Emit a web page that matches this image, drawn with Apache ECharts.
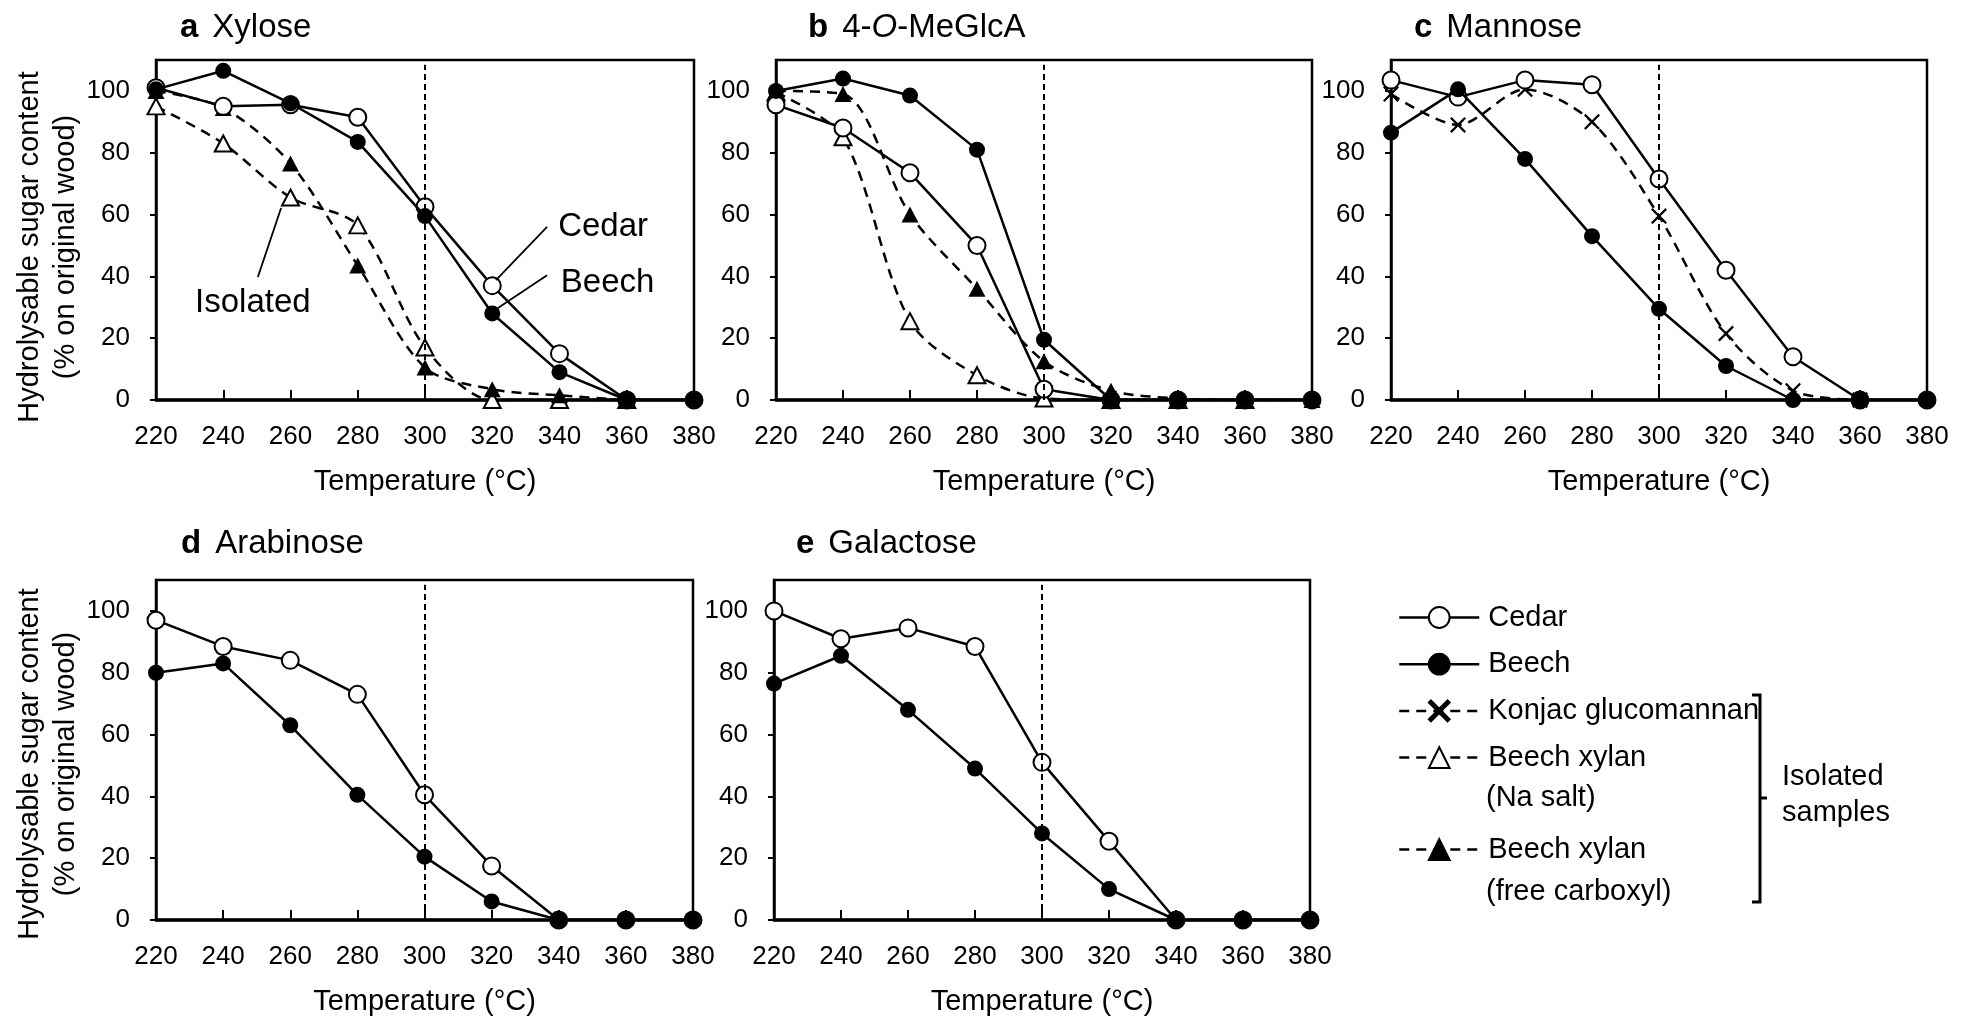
<!DOCTYPE html>
<html><head><meta charset="utf-8">
<script src="https://cdn.jsdelivr.net/npm/echarts@6/dist/echarts.min.js"></script>
<style>html,body{margin:0;padding:0;background:#fff}#c{width:1961px;height:1028px}</style>
</head><body><div id="c"></div>
<script>
// ---- data ----
const temps = [220, 240, 260, 280, 300, 320, 340, 360, 380];
const xTicks = [220, 240, 260, 280, 300, 320, 340, 360, 380];
const yTicks = [0, 20, 40, 60, 80, 100];

const xyloseCedar = [101, 95, 95.5, 91.5, 62.5, 37, 15, 0, 0];
const xyloseBeech = [100.5, 106.5, 96, 83.5, 59.5, 28, 9, 0, 0];
const xyloseNaSalt = [95, 83, 65.5, 56.5, 17, 0, 0, 0, null];
const xyloseFreeCarboxyl = [100, 94.5, 76.5, 43.5, 10.5, 3.5, 1.5, 0, null];

const meglcaCedar = [95.5, 88, 73.5, 50, 3.5, 0, 0, 0, 0];
const meglcaBeech = [100, 104, 98.5, 81, 19.5, 0, 0, 0, 0];
const meglcaNaSalt = [99.5, 85, 25.5, 8, 0.5, 0, 0, 0, null];
const meglcaFreeCarboxyl = [100, 99, 60, 36, 12.5, 3, 0.5, 0, 0];

const mannoseCedar = [103.5, 98, 103.5, 102, 71.5, 42, 14, 0, 0];
const mannoseBeech = [86.5, 100.5, 78, 53, 29.5, 11, 0, 0, 0];
const mannoseKonjac = [99, 89, 100.5, 90, 59.5, 21.5, 3, 0, null];

const arabinoseCedar = [97, 88.5, 84, 73, 40.5, 17.5, 0, 0, 0];
const arabinoseBeech = [80, 83, 63, 40.5, 20.5, 6, 0, 0, 0];

const galactoseCedar = [100, 91, 94.5, 88.5, 51, 25.5, 0, 0, 0];
const galactoseBeech = [76.5, 85.5, 68, 49, 28, 10, 0, 0, 0];

const legendNames = ['Cedar', 'Beech', 'Konjac glucomannan', 'Beech xylan (Na salt)', 'Beech xylan (free carboxyl)'];

// ---- styling / layout ----
const FONT = '"Liberation Sans", Arial, Helvetica, sans-serif';
const XPATH = 'path://M1,0 L5,4 L9,0 L10,1 L6,5 L10,9 L9,10 L5,6 L1,10 L0,9 L4,5 L0,1 Z';
const DASH = [10, 7];
const styles = {
  'Cedar': {symbol: 'circle', symbolSize: 17, itemStyle: {color: '#fff', borderColor: '#000', borderWidth: 2}, lineStyle: {color: '#000', width: 2.5, type: 'solid'}, smooth: false, z: 4},
  'Beech': {symbol: 'circle', symbolSize: 16, itemStyle: {color: '#000', borderColor: '#000', borderWidth: 0}, lineStyle: {color: '#000', width: 2.5, type: 'solid'}, smooth: false, z: 5},
  'Konjac glucomannan': {symbol: XPATH, symbolSize: 16, itemStyle: {color: '#000', borderColor: '#000', borderWidth: 0}, lineStyle: {color: '#000', width: 2.5, type: DASH}, smooth: 0.3, z: 3},
  'Beech xylan (Na salt)': {symbol: 'triangle', symbolSize: [17, 16], itemStyle: {color: '#fff', borderColor: '#000', borderWidth: 2}, lineStyle: {color: '#000', width: 2.5, type: DASH}, smooth: 0.3, z: 3},
  'Beech xylan (free carboxyl)': {symbol: 'triangle', symbolSize: [17, 16], itemStyle: {color: '#000', borderColor: '#000', borderWidth: 0}, lineStyle: {color: '#000', width: 2.5, type: DASH}, smooth: 0.3, z: 3}
};

const panels = [
  {label: 'a', rich: '{n|Xylose}', tl: [175, 6], grid: {left: 156, top: 60, width: 538, height: 340},
   lines: [['Beech xylan (Na salt)', xyloseNaSalt], ['Beech xylan (free carboxyl)', xyloseFreeCarboxyl], ['Cedar', xyloseCedar], ['Beech', xyloseBeech]]},
  {label: 'b', rich: '{n|4-}{i|O}{n|-MeGlcA}', tl: [803, 6], grid: {left: 776, top: 60, width: 536, height: 340},
   lines: [['Beech xylan (Na salt)', meglcaNaSalt], ['Beech xylan (free carboxyl)', meglcaFreeCarboxyl], ['Cedar', meglcaCedar], ['Beech', meglcaBeech]]},
  {label: 'c', rich: '{n|Mannose}', tl: [1409, 6], grid: {left: 1391, top: 60, width: 536, height: 340},
   lines: [['Konjac glucomannan', mannoseKonjac], ['Cedar', mannoseCedar], ['Beech', mannoseBeech]]},
  {label: 'd', rich: '{n|Arabinose}', tl: [176, 522], grid: {left: 156, top: 580, width: 537, height: 340},
   lines: [['Cedar', arabinoseCedar], ['Beech', arabinoseBeech]]},
  {label: 'e', rich: '{n|Galactose}', tl: [791, 522], grid: {left: 774, top: 580, width: 536, height: 340},
   lines: [['Cedar', galactoseCedar], ['Beech', galactoseBeech]]}
];

const grids = [], xAxes = [], yAxes = [], titles = [], series = [];
panels.forEach((p, gi) => {
  grids.push(Object.assign({show: true, borderColor: '#000', borderWidth: 2.5, containLabel: false}, p.grid));
  titles.push({
    text: '{b|' + p.label + '}' + p.rich, left: p.tl[0], top: p.tl[1],
    textStyle: {fontWeight: 'normal', rich: {
      b: {fontSize: 33, fontWeight: 'bold', fontFamily: FONT, color: '#000', padding: [0, 14, 0, 0]},
      n: {fontSize: 33, fontWeight: 'normal', fontFamily: FONT, color: '#000'},
      i: {fontSize: 33, fontWeight: 'normal', fontStyle: 'italic', fontFamily: FONT, color: '#000'}
    }}
  });
  xAxes.push({
    gridIndex: gi, type: 'value', min: 220, max: 380, interval: 20,
    axisLine: {show: true, onZero: false, lineStyle: {color: '#000', width: 3.5}},
    axisTick: {show: true, inside: true, length: 10, lineStyle: {color: '#000', width: 2}},
    axisLabel: {show: true, margin: 24, fontSize: 26, fontFamily: FONT, color: '#000', customValues: xTicks},
    splitLine: {show: false},
    name: 'Temperature (°C)', nameLocation: 'middle', nameGap: 67,
    nameTextStyle: {fontSize: 29, fontFamily: FONT, color: '#000'}
  });
  yAxes.push({
    gridIndex: gi, type: 'value', min: 0, max: 110,
    axisLine: {show: true, onZero: false, lineStyle: {color: '#000', width: 2.5}},
    axisTick: {show: true, inside: false, length: 6, lineStyle: {color: '#000', width: 2}, customValues: yTicks},
    axisLabel: {show: true, margin: 26, fontSize: 26, fontFamily: FONT, color: '#000', customValues: yTicks},
    splitLine: {show: false}
  });
  p.lines.forEach(([name, vals]) => {
    const st = styles[name];
    series.push({
      type: 'line', name: name, xAxisIndex: gi, yAxisIndex: gi,
      data: temps.map((t, i) => vals[i] == null ? null : [t, vals[i]]).filter(d => d !== null),
      symbol: st.symbol, symbolSize: st.symbolSize, showAllSymbol: true,
      itemStyle: st.itemStyle, lineStyle: st.lineStyle, smooth: st.smooth, z: st.z,
      animation: false, emphasis: {disabled: true}
    });
  });
  // dashed reference line at 300 °C
  series.push({
    type: 'line', xAxisIndex: gi, yAxisIndex: gi, data: [], silent: true, animation: false, z: 2,
    markLine: {
      silent: true, symbol: ['none', 'none'], animation: false,
      lineStyle: {color: '#000', width: 2, type: [6, 4]}, label: {show: false},
      data: [[{coord: [300, 0]}, {coord: [300, 108.5]}]]
    }
  });
});

// annotations in panel a
series.push({
  type: 'line', xAxisIndex: 0, yAxisIndex: 0, data: [], silent: true, animation: false, z: 6,
  markLine: {
    silent: true, symbol: ['none', 'none'], animation: false,
    lineStyle: {color: '#000', width: 1.8, type: 'solid'}, label: {show: false},
    data: [
      [{coord: [336.3, 56]}, {coord: [321.1, 38.8]}],
      [{coord: [336.3, 40.4]}, {coord: [321.7, 29.8]}],
      [{coord: [257.2, 62.1]}, {coord: [250.3, 39.8]}]
    ]
  },
  markPoint: {
    silent: true, animation: false, symbol: 'circle', symbolSize: 0,
    label: {show: true, position: 'right', distance: 0, formatter: '{b}', fontSize: 33, fontFamily: FONT, color: '#000'},
    data: [
      {name: 'Cedar', coord: [339.6, 56.0]},
      {name: 'Beech', coord: [340.4, 37.9]},
      {name: 'Isolated', coord: [248.8, 31.4], label: {position: 'inside'}}
    ]
  }
});

const legendCommon = {
  orient: 'vertical', left: 1393, itemWidth: 80, itemHeight: 26,
  selectedMode: false,
  formatter: n => n.replace(/ \(.*\)$/, ''),
  textStyle: {fontSize: 29, fontFamily: FONT, color: '#000', padding: [0, 0, 0, 4]},
  itemStyle: {borderWidth: 2},
  lineStyle: {width: 2.5}
};

const yNameText = 'Hydrolysable sugar content\n(% on original wood)';
const yNameStyle = {text: yNameText, fontSize: 29, lineHeight: 36, fontFamily: FONT, fill: '#000', align: 'center', verticalAlign: 'middle'};

const option = {
  backgroundColor: '#fff',
  animation: false,
  title: titles,
  grid: grids,
  xAxis: xAxes,
  yAxis: yAxes,
  legend: [
    Object.assign({}, legendCommon, {data: legendNames.slice(0, 4), top: 598, itemGap: 17.7}),
    Object.assign({}, legendCommon, {data: legendNames.slice(4), top: 830})
  ],
  graphic: [
    {type: 'text', x: 48, y: 247, rotation: Math.PI / 2, style: yNameStyle},
    {type: 'text', x: 48, y: 764, rotation: Math.PI / 2, style: yNameStyle},
    {type: 'text', x: 1486, y: 798, style: {text: '(Na salt)', fontSize: 29, fontFamily: FONT, fill: '#000', verticalAlign: 'middle'}},
    {type: 'text', x: 1486, y: 892, style: {text: '(free carboxyl)', fontSize: 29, fontFamily: FONT, fill: '#000', verticalAlign: 'middle'}},
    {type: 'polyline', shape: {points: [[1752, 695], [1760, 695], [1760, 902], [1752, 902]]}, style: {stroke: '#000', lineWidth: 3, fill: null}},
    {type: 'line', shape: {x1: 1760, y1: 798, x2: 1767, y2: 798}, style: {stroke: '#000', lineWidth: 3}},
    {type: 'text', x: 1782, y: 777, style: {text: 'Isolated', fontSize: 29, fontFamily: FONT, fill: '#000', verticalAlign: 'middle'}},
    {type: 'text', x: 1782, y: 813, style: {text: 'samples', fontSize: 29, fontFamily: FONT, fill: '#000', verticalAlign: 'middle'}}
  ],
  series: series
};

const chart = echarts.init(document.getElementById('c'), null, {renderer: 'canvas'});
chart.setOption(option);
</script>
</body></html>
